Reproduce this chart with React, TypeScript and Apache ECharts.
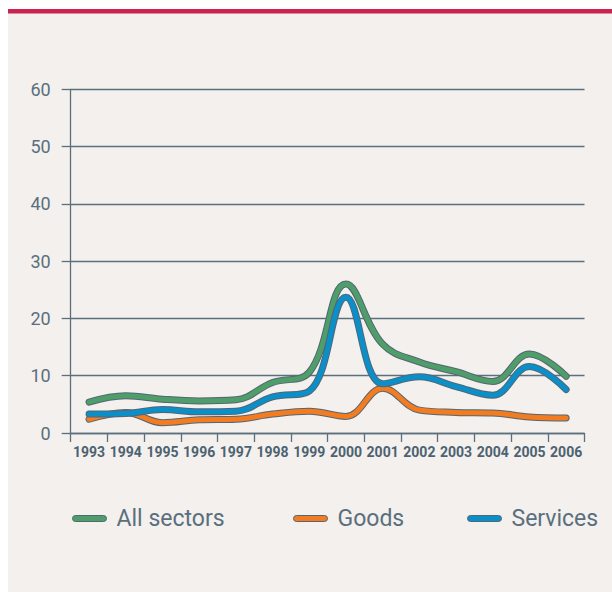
import React, { useEffect, useRef } from "react";
import * as echarts from "echarts";

const years = ["1993", "1994", "1995", "1996", "1997", "1998", "1999", "2000", "2001", "2002", "2003", "2004", "2005", "2006"];
const allSectors = [5.4, 6.5, 5.9, 5.6, 5.8, 8.8, 10.6, 26.0, 15.5, 12.4, 10.7, 9.0, 13.8, 9.9];
const goods = [2.4, 3.6, 1.8, 2.3, 2.4, 3.3, 3.8, 2.9, 7.8, 4.0, 3.6, 3.5, 2.8, 2.6];
const services = [3.3, 3.4, 4.1, 3.7, 3.8, 6.3, 7.3, 23.7, 8.6, 9.8, 8.1, 6.6, 11.6, 7.6];
const yTicks = { min: 0, max: 60, interval: 10 };

const seriesDefs = [
  { name: "All sectors", data: allSectors, color: "#4f9d69" },
  { name: "Goods", data: goods, color: "#f47c20" },
  { name: "Services", data: services, color: "#0a8fc8" },
];

const OUTLINE = "#536674";
const AXIS = "#5b6f7d";
const LABEL = "#5a6f7d";
const ICON = "path://M3,0 H31 A3,3 0 0 1 31,6 H3 A3,3 0 0 1 3,0 Z";

export default function App() {
  const ref = useRef<HTMLDivElement>(null);
  useEffect(() => {
    if (!ref.current) return;
    const chart = echarts.init(ref.current, undefined, { renderer: "svg" });
    const series: any[] = [];
    seriesDefs.forEach((s) => {
      series.push({
        name: s.name + " outline",
        type: "line",
        data: s.data,
        smooth: 0.4,
        showSymbol: false,
        silent: true,
        lineStyle: { color: OUTLINE, width: 7, cap: "round", join: "round" },
      });
      series.push({
        name: s.name,
        type: "line",
        data: s.data,
        smooth: 0.4,
        showSymbol: false,
        color: s.color,
        lineStyle: { color: s.color, width: 5, cap: "round", join: "round" },
      });
    });
    const legendLefts = [64, 285, 459];
    const legend = seriesDefs.map((s, i) => ({
      left: legendLefts[i],
      top: 498,
      padding: 0,
      orient: "horizontal",
      itemWidth: 34,
      itemHeight: 7,
      itemGap: 0,
      icon: ICON,
      itemStyle: { color: s.color, borderColor: OUTLINE, borderWidth: 1 },
      textStyle: { fontFamily: "Roboto", fontSize: 23, color: LABEL, padding: [0, 0, 0, 5] },
      data: [{ name: s.name, icon: ICON }],
      selectedMode: false,
    }));
    chart.setOption({
      animation: false,
      backgroundColor: "#f3f0ed",
      grid: { left: 62.7, right: 27.5, top: 80.3, bottom: 159, containLabel: false },
      legend,
      graphic: [
        { type: "rect", left: 0, top: 0, shape: { width: 604, height: 4.5 }, style: { fill: "#cc224f" } },
      ],
      xAxis: {
        type: "category",
        data: years,
        boundaryGap: true,
        axisLine: { show: true, lineStyle: { color: AXIS, width: 1.3 } },
        axisTick: { show: true, length: 9, inside: false, lineStyle: { color: AXIS, width: 1.3 } },
        axisLabel: {
          interval: 0,
          margin: 12,
          color: "#4c6271",
          fontSize: 14,
          fontWeight: "bold",
          fontFamily: "Roboto",
        },
        splitLine: { show: false },
      },
      yAxis: {
        type: "value",
        min: yTicks.min,
        max: yTicks.max,
        interval: yTicks.interval,
        axisLine: { show: true, lineStyle: { color: AXIS, width: 1.3 } },
        axisTick: { show: true, length: 9, lineStyle: { color: AXIS, width: 1.3 } },
        axisLabel: { margin: 20, color: LABEL, fontSize: 18, fontFamily: "Roboto" },
        splitLine: { show: true, lineStyle: { color: AXIS, width: 1.3 } },
      },
      series,
    });
    return () => chart.dispose();
  }, []);
  return (
    <div
      ref={ref}
      style={{ position: "absolute", left: 8, top: 9, width: 604, height: 583 }}
    />
  );
}
